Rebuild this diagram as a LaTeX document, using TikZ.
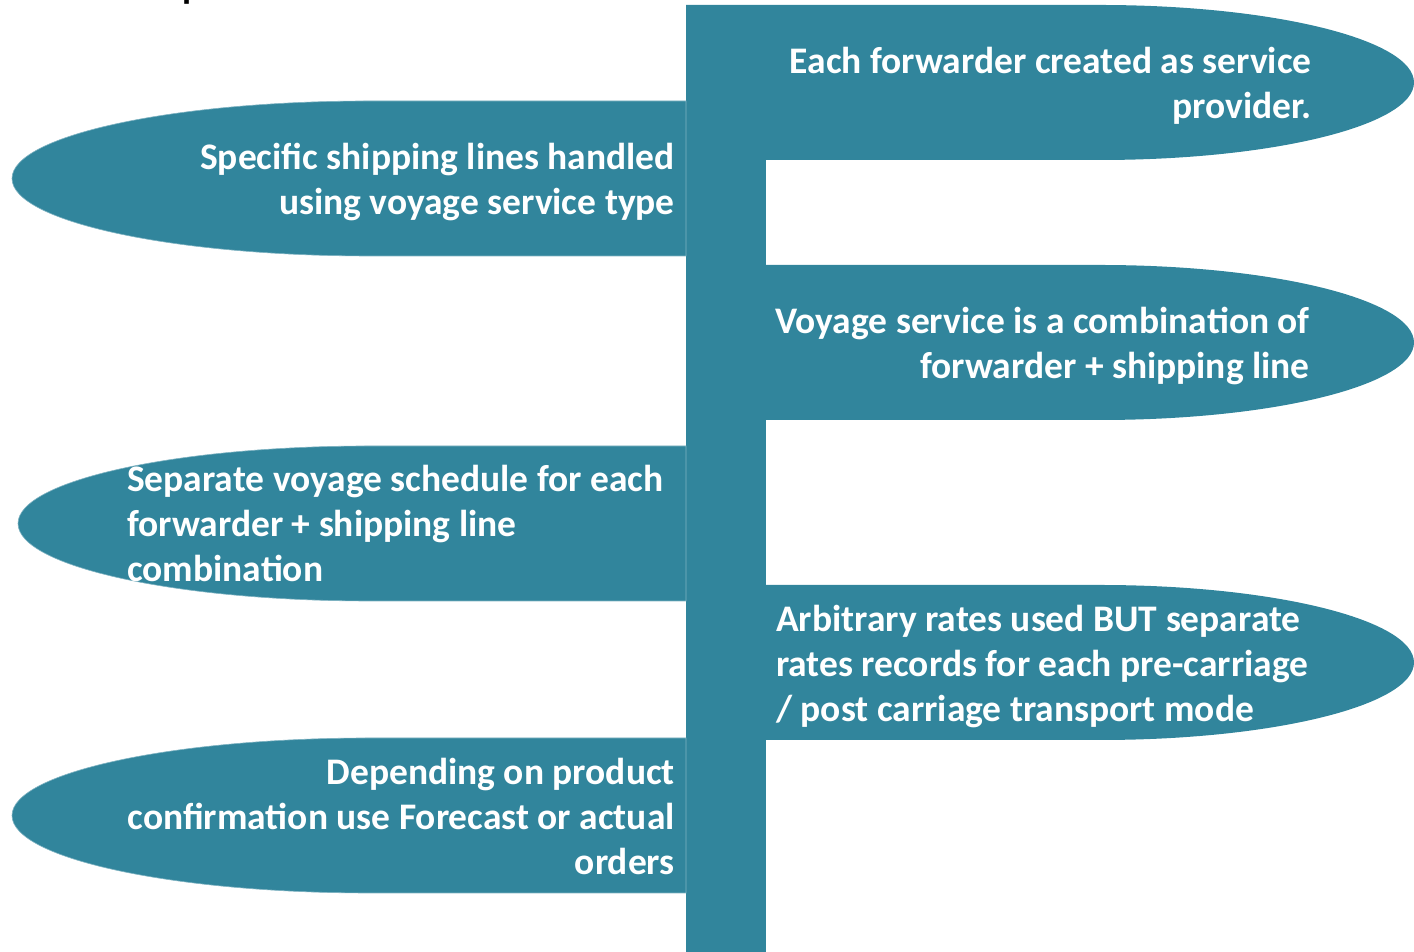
\documentclass[tikz,border=0pt]{standalone}
\usepackage{fontspec}
\setmainfont{Carlito}
\definecolor{teal5}{HTML}{31859C}
\definecolor{tealedge}{HTML}{7FB3C2}
\begin{document}
\begin{tikzpicture}[x=1pt,y=1pt,
  shapebox/.style={fill=teal5,draw=tealedge,line width=0.6pt},
  lbl/.style={text=white,font=\fontsize{37.5}{45}\selectfont\bfseries,inner sep=0pt},
  lblr/.style={lbl,align=right,anchor=base east},
  lbll/.style={lbl,align=left,anchor=base west}]
\useasboundingbox (0,0) rectangle (1414,952);
\clip (0,0) rectangle (1414,952);
% cut-off title fragment
\node[font=\fontsize{37}{40}\selectfont\bfseries,text=black,inner sep=0pt,anchor=base west] (title) at (182,953) {p};
% central bar
\fill[teal5] (686,0) rectangle (766,947);
% right shapes
\fill[teal5] (686,947) -- (1100,947) arc[start angle=90,end angle=-90,x radius=314,y radius=77.5] -- (686,792) -- cycle;
\fill[teal5] (766,687) -- (1100,687) arc[start angle=90,end angle=-90,x radius=314,y radius=77.5] -- (766,532) -- cycle;
\fill[teal5] (766,367) -- (1100,367) arc[start angle=90,end angle=-90,x radius=314,y radius=77.5] -- (766,212) -- cycle;
% left shapes
\draw[shapebox] (686,851) -- (370,851) arc[start angle=90,end angle=270,x radius=358,y radius=77.5] -- (686,696) -- cycle;
\draw[shapebox] (686,506) -- (370,506) arc[start angle=90,end angle=270,x radius=352,y radius=77.5] -- (686,351) -- cycle;
\draw[shapebox] (686,214) -- (370,214) arc[start angle=90,end angle=270,x radius=358,y radius=77.5] -- (686,59) -- cycle;
% labels (base anchor = baseline of last line)
\node[lblr] (r1) at (1312,833) {Each forwarder created as service\\provider.};
\node[lblr] (l1) at (675,737) {Specific shipping lines handled\\using voyage service type};
\node[lblr] (r2) at (1310,573) {Voyage service is a combination of\\forwarder + shipping line};
\node[lbll] (l2) at (127,370) {Separate voyage schedule for each\\forwarder + shipping line\\combination};
\node[lbll] (r3) at (776,230) {Arbitrary rates used BUT separate\\rates records for each pre-carriage\\/ post carriage transport mode};
\node[lblr] (l3) at (675,77) {Depending on product\\confirmation use Forecast or actual\\orders};
\end{tikzpicture}
\end{document}
